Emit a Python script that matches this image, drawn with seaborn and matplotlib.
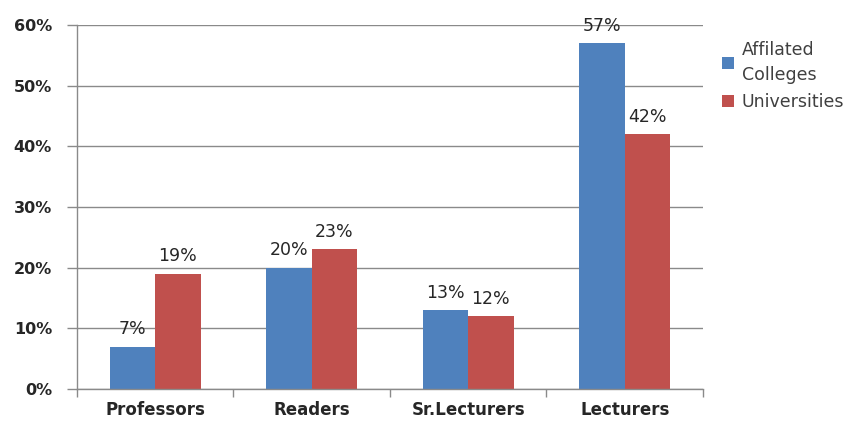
import matplotlib
matplotlib.use("Agg")
import matplotlib.pyplot as plt
import seaborn as sns
import pandas as pd
from matplotlib.ticker import FixedLocator, FuncFormatter

categories = ["Professors", "Readers", "Sr.Lecturers", "Lecturers"]
affiliated = [7, 20, 13, 57]
universities = [19, 23, 12, 42]
series_names = ["Affilated\nColleges", "Universities"]
colors = ["#4F81BD", "#C0504D"]

df = pd.DataFrame({
    "category": categories * 2,
    "value": affiliated + universities,
    "series": [series_names[0]] * 4 + [series_names[1]] * 4,
})

sns.set_style("white")
plt.rcParams["font.family"] = ["DejaVu Sans"]

fig = plt.figure(figsize=(8.59, 4.22), dpi=100)
ax = fig.add_axes([0.0896, 0.0782, 0.7288, 0.8626])

sns.barplot(data=df, x="category", y="value", hue="series", order=categories,
            hue_order=series_names, palette=colors, width=0.58, saturation=1,
            linewidth=0, edgecolor="none", ax=ax, legend=True)

ax.set_ylim(0, 60)
ax.set_xlim(-0.5, 3.5)
ax.set_yticks(range(0, 61, 10))
ax.yaxis.set_major_formatter(FuncFormatter(lambda v, p: f"{int(v)}%"))
ax.grid(axis="y", color="#8a8a8a", linewidth=1.0)
ax.set_axisbelow(True)
ax.tick_params(axis="y", left=True, length=7, color="#8a8a8a", width=1.0,
               pad=11, labelsize=11.5, labelcolor="#262626")
for t in ax.get_yticklabels():
    t.set_fontweight("bold")
ax.tick_params(axis="x", which="major", bottom=False, length=0, pad=9,
               labelsize=12, labelcolor="#262626")
for t in ax.get_xticklabels():
    t.set_fontweight("bold")
ax.xaxis.set_minor_locator(FixedLocator([-0.5, 0.5, 1.5, 2.5, 3.5]))
ax.tick_params(axis="x", which="minor", bottom=True, length=6,
               color="#8a8a8a", width=1.0, direction="out")
ax.set_xlabel("")
ax.set_ylabel("")

for side in ["top", "right"]:
    ax.spines[side].set_visible(False)
for side in ["left", "bottom"]:
    ax.spines[side].set_color("#8a8a8a")
    ax.spines[side].set_linewidth(1.0)

for container in ax.containers:
    ax.bar_label(container, labels=[f"{int(v)}%" for v in container.datavalues],
                 padding=6, fontsize=12.5, color="#262626")

handles, labels = ax.get_legend_handles_labels()
leg = ax.legend(handles, labels, loc="upper left", bbox_to_anchor=(1.005, 1.0),
                frameon=False, fontsize=12.5, handlelength=0.7, handleheight=0.7,
                handletextpad=0.45, labelspacing=0.55, labelcolor="#404040")
for t in leg.get_texts():
    t.set_linespacing(1.5)

fig.savefig("out.png", dpi=100)
